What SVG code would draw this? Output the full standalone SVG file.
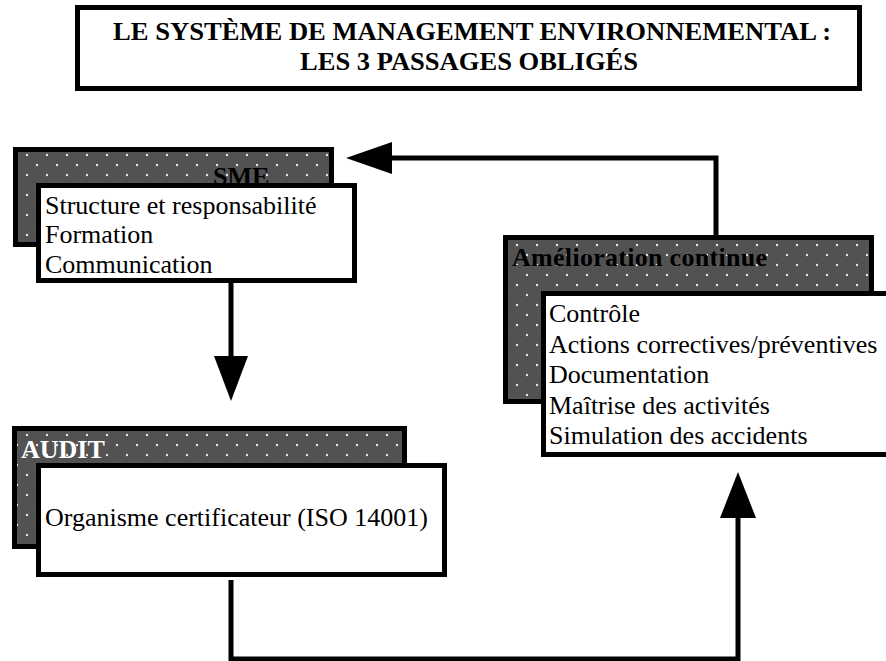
<svg xmlns="http://www.w3.org/2000/svg" width="886" height="661" viewBox="0 0 886 661">
  <defs>
    <!-- dark stipple used for the back panels -->
    <pattern id="dots" patternUnits="userSpaceOnUse" width="20" height="20">
      <rect width="20" height="20" fill="#525252"/>
      <circle cx="7" cy="15" r="1.2" fill="#e6e6e6"/>
      <circle cx="17" cy="5" r="1.2" fill="#e6e6e6"/>
    </pattern>
    <style>
      .frame { stroke: #000; stroke-width: 5; }
      .back { fill: url(#dots); stroke: #000; stroke-width: 5; }
      .front { fill: #fff; stroke: #000; stroke-width: 5; }
      .head { font-family: "Liberation Serif", "Times New Roman", serif; font-weight: bold; font-size: 26px; }
      .item { font-family: "Liberation Serif", "Times New Roman", serif; font-size: 26px; fill: #000; }
      .wire { fill: none; stroke: #000; stroke-width: 5; }
      .tip { fill: #000; }
    </style>
  </defs>

  <rect width="886" height="661" fill="#fff"/>

  <!-- title banner -->
  <g id="title">
    <rect class="frame" x="77.5" y="7.5" width="782" height="81" fill="#fff"/>
    <text class="head" x="472" y="40" text-anchor="middle" font-size="27" textLength="718" lengthAdjust="spacingAndGlyphs">LE SYSTÈME DE MANAGEMENT ENVIRONNEMENTAL :</text>
    <text class="head" x="469" y="70" text-anchor="middle" font-size="27" textLength="338" lengthAdjust="spacingAndGlyphs">LES 3 PASSAGES OBLIGÉS</text>
  </g>

  <!-- connectors -->
  <g id="connectors">
    <line class="wire" x1="231" y1="283" x2="231" y2="360"/>
    <polygon class="tip" points="214,356 248,356 231,401"/>
    <path class="wire" d="M231,580 V659 H738 V514"/>
    <polygon class="tip" points="720,518 756,518 738,472"/>
    <path class="wire" d="M716,236 V158 H388"/>
    <polygon class="tip" points="392,142 392,174 346,158"/>
  </g>

  <!-- SME -->
  <g id="sme">
    <rect class="back" x="15.5" y="149.5" width="316" height="95"/>
    <text class="head" x="213" y="185" font-size="28">SME</text>
    <rect class="front" x="38.5" y="185.5" width="316" height="95"/>
    <text class="item" x="45" y="214">Structure et responsabilité</text>
    <text class="item" x="45" y="243">Formation</text>
    <text class="item" x="45" y="273">Communication</text>
  </g>

  <!-- Amélioration continue -->
  <g id="amelioration">
    <rect class="back" x="505.5" y="237.5" width="366" height="164"/>
    <text class="head" x="512" y="266" textLength="255">Amélioration continue</text>
    <rect class="front" x="543.5" y="293.5" width="360" height="161"/>
    <text class="item" x="549" y="322">Contrôle</text>
    <text class="item" x="549" y="353">Actions correctives/préventives</text>
    <text class="item" x="549" y="383">Documentation</text>
    <text class="item" x="549" y="414">Maîtrise des activités</text>
    <text class="item" x="549" y="444">Simulation des accidents</text>
  </g>

  <!-- AUDIT -->
  <g id="audit">
    <rect class="back" x="14.5" y="428.5" width="390" height="118"/>
    <text class="head" x="21" y="458" fill="#fff" font-size="25">AUDIT</text>
    <rect class="front" x="38.5" y="465.5" width="406" height="109"/>
    <text class="item" x="45" y="526">Organisme certificateur (ISO 14001)</text>
  </g>
</svg>
